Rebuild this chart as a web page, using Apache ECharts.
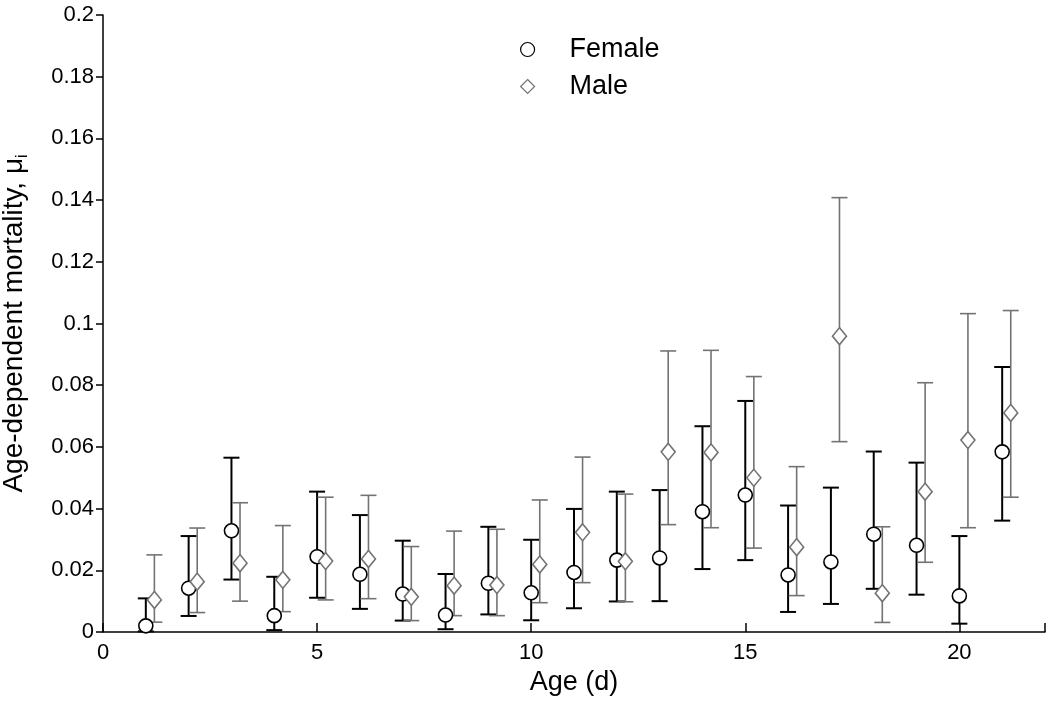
<!DOCTYPE html>
<html>
<head>
<meta charset="utf-8">
<script src="https://cdn.jsdelivr.net/npm/echarts@6/dist/echarts.min.js"></script>
<style>html,body{margin:0;padding:0;background:#fff}#c{width:1050px;height:702px}</style>
</head>
<body>
<div id="c"></div>
<script>
const ages = [1,2,3,4,5,6,7,8,9,10,11,12,13,14,15,16,17,18,19,20,21];
const femaleMean = [0.0020,0.0142,0.0328,0.0053,0.0244,0.0187,0.0123,0.0055,0.0158,0.0127,0.0193,0.0233,0.0240,0.0390,0.0444,0.0185,0.0227,0.0317,0.0281,0.0117,0.0584];
const femaleLow  = [0.0002,0.0052,0.0170,0.0006,0.0111,0.0075,0.0037,0.0009,0.0057,0.0038,0.0077,0.0099,0.0100,0.0204,0.0233,0.0065,0.0091,0.0140,0.0121,0.0027,0.0361];
const femaleHigh = [0.0109,0.0311,0.0565,0.0179,0.0455,0.0379,0.0296,0.0188,0.0341,0.0299,0.0399,0.0455,0.0460,0.0667,0.0749,0.0410,0.0468,0.0585,0.0549,0.0311,0.0859];
const maleMean = [0.0104,0.0163,0.0223,0.0169,0.0230,0.0237,0.0114,0.0150,0.0152,0.0219,0.0323,0.0229,0.0584,0.0582,0.0500,0.0275,0.0959,0.0126,0.0455,0.0622,0.0710];
const maleLow  = [0.0032,0.0063,0.0100,0.0066,0.0104,0.0108,0.0037,0.0053,0.0053,0.0095,0.0160,0.0098,0.0348,0.0338,0.0272,0.0118,0.0617,0.0031,0.0226,0.0338,0.0437];
const maleHigh = [0.0250,0.0337,0.0419,0.0345,0.0437,0.0443,0.0277,0.0327,0.0333,0.0428,0.0567,0.0447,0.0911,0.0913,0.0828,0.0536,0.1408,0.0341,0.0808,0.1032,0.1042];
const xTicks = [0,5,10,15,20];
const yTicks = [0,0.02,0.04,0.06,0.08,0.1,0.12,0.14,0.16,0.18,0.2];

const MALE_OFFSET = 0.2;
const FEMALE_COLOR = '#000000';
const MALE_COLOR = '#737373';
const FONT = 'Liberation Sans, Arial, sans-serif';

const femaleX = ages.slice();
const maleX = ages.map(a => a + MALE_OFFSET);

function errData(xs, lo, hi) { return xs.map((x, i) => [x, lo[i], hi[i]]); }
function errRender(color, width) {
  return function (params, api) {
    const x = api.value(0);
    const lo = api.coord([x, api.value(1)]);
    const hi = api.coord([x, api.value(2)]);
    const hw = 8;
    const style = { stroke: color, lineWidth: width, fill: null };
    return {
      type: 'group',
      children: [
        { type: 'line', shape: { x1: lo[0], y1: lo[1], x2: hi[0], y2: hi[1] }, style },
        { type: 'line', shape: { x1: hi[0] - hw, y1: hi[1], x2: hi[0] + hw, y2: hi[1] }, style },
        { type: 'line', shape: { x1: lo[0] - hw, y1: lo[1], x2: lo[0] + hw, y2: lo[1] }, style }
      ]
    };
  };
}

const chart = echarts.init(document.getElementById('c'), null, { renderer: 'canvas' });
chart.setOption({
  backgroundColor: '#fff',
  animation: false,
  textStyle: { fontFamily: FONT },
  grid: { left: 103, right: 5, top: 15, bottom: 70, containLabel: false, outerBoundsMode: 'none' },
  legend: {
    orient: 'vertical',
    left: 515, top: 31,
    itemWidth: 14, itemHeight: 14, itemGap: 10,
    textStyle: { fontSize: 27, lineHeight: 26, color: '#000', fontFamily: FONT, padding: [0,0,0,30] },
    data: [
      { name: 'Female', itemStyle: { borderWidth: 1.2 } },
      { name: 'Male', itemStyle: { borderWidth: 1.2 } }
    ]
  },
  xAxis: {
    type: 'value', min: 0, max: 22, interval: 5,
    name: 'Age (d)', nameLocation: 'middle', nameGap: 37,
    nameTextStyle: { fontSize: 27, color: '#000', fontFamily: FONT },
    axisLine: { show: true, lineStyle: { color: '#000', width: 1.5 } },
    axisTick: { show: true, inside: true, length: 9, lineStyle: { color: '#000', width: 1.5 } },
    axisLabel: { fontSize: 22, color: '#000', margin: 10, fontFamily: FONT,
      customValues: xTicks, formatter: v => String(v) },
    splitLine: { show: false }
  },
  yAxis: {
    type: 'value', min: 0, max: 0.2, interval: 0.02,
    name: 'Age-dependent mortality, μ{sub|i}', nameLocation: 'middle', nameGap: 72,
    nameTextStyle: { fontSize: 28, color: '#000', fontFamily: FONT,
      rich: { sub: { fontSize: 16, color: '#000', fontFamily: FONT, padding: [17, 0, 0, 0] } } },
    axisLine: { show: true, lineStyle: { color: '#000', width: 1.5 } },
    axisTick: { show: true, inside: false, length: 7, lineStyle: { color: '#000', width: 1.5 } },
    axisLabel: { fontSize: 22, color: '#000', margin: 9, fontFamily: FONT,
      customValues: yTicks, formatter: v => String(+v.toFixed(2)) },
    splitLine: { show: false }
  },
  series: [
    { type: 'custom', name: 'femaleErr', data: errData(femaleX, femaleLow, femaleHigh),
      renderItem: errRender(FEMALE_COLOR, 2), z: 2, silent: true },
    { type: 'custom', name: 'maleErr', data: errData(maleX, maleLow, maleHigh),
      renderItem: errRender(MALE_COLOR, 1.6), z: 2, silent: true },
    { type: 'scatter', name: 'Female', data: femaleX.map((x, i) => [x, femaleMean[i]]),
      symbol: 'circle', symbolSize: 14, z: 5,
      itemStyle: { color: '#fff', borderColor: FEMALE_COLOR, borderWidth: 1.6, opacity: 1 } },
    { type: 'scatter', name: 'Male', data: maleX.map((x, i) => [x, maleMean[i]]),
      symbol: 'diamond', symbolSize: [14, 17], z: 5,
      itemStyle: { color: '#fff', borderColor: MALE_COLOR, borderWidth: 1.6, opacity: 1 } }
  ]
});
</script>
</body>
</html>
